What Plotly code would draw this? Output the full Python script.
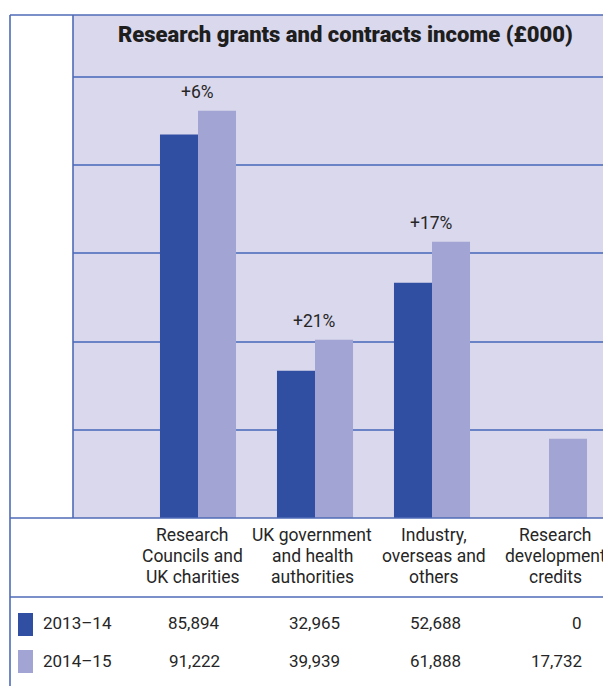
import plotly.graph_objects as go

# ---------------- data ----------------
categories = ["Research Councils and UK charities",
              "UK government and health authorities",
              "Industry, overseas and others",
              "Research development credits"]
category_lines = [["Research", "Councils and", "UK charities"],
                  ["UK government", "and health", "authorities"],
                  ["Industry,", "overseas and", "others"],
                  ["Research", "development", "credits"]]
series_names = ["2013–14", "2014–15"]
values_2013_14 = [85894, 32965, 52688, 0]
values_2014_15 = [91222, 39939, 61888, 17732]
change_labels = ["+6%", "+21%", "+17%", ""]
title_text = "Research grants and contracts income (£000)"

# ---------------- style ----------------
W, H = 603, 686
DARK = "#304FA3"
LIGHT = "#A2A4D3"
BG = "#DAD8EC"
LINE = "#4F6BB7"
GRID = "#6A82C6"
TXT = "#262626"
FONT = "Roboto, Liberation Sans, sans-serif"

PLOT_L, PLOT_R, PLOT_T, PLOT_B = 73, 603, 15, 518


def fx(p):
    return p / W


def fy(p):
    return 1 - p / H


fig = go.Figure()
fig.add_trace(go.Bar(x=categories, y=values_2013_14, name=series_names[0],
                     marker=dict(color=DARK, line=dict(width=0))))
fig.add_trace(go.Bar(x=categories, y=values_2014_15, name=series_names[1],
                     marker=dict(color=LIGHT, line=dict(width=0))))

annotations = []
# change labels above the groups
for cat, val, lab in zip(categories, values_2014_15, change_labels):
    if lab:
        annotations.append(dict(x=cat, y=val, xref="x", yref="y", text=lab,
                                showarrow=False, yanchor="middle", yshift=19,
                                xshift=-1,
                                font=dict(family=FONT, size=17.5, color=TXT)))

# title
annotations.append(dict(x=fx(345.5), y=fy(35), xref="paper", yref="paper",
                        text=title_text, showarrow=False,
                        xanchor="center", yanchor="middle",
                        font=dict(family=FONT, size=22, color="#1E1E1E",
                                  weight=900)))

# table: category labels
col_centers = [192, 312, 434, 555]
line_ys = [535, 556, 577]
for cx, lines in zip(col_centers, category_lines):
    for ly, t in zip(line_ys, lines):
        annotations.append(dict(x=fx(cx), y=fy(ly), xref="paper", yref="paper",
                                text=t, showarrow=False, xanchor="center",
                                yanchor="middle", borderpad=0,
                                font=dict(family=FONT, size=17.5, color=TXT)))

# table: values
col_rights = [222, 342, 463, 584]
row_ys = [623, 661]
for ry, vals in zip(row_ys, [values_2013_14, values_2014_15]):
    for rx, v in zip(col_rights, vals):
        annotations.append(dict(x=fx(rx), y=fy(ry), xref="paper", yref="paper",
                                text=f"{v:,}", showarrow=False, xanchor="right",
                                yanchor="middle",
                                font=dict(family=FONT, size=17, color=TXT)))

# table: legend labels
for ry, name in zip(row_ys, series_names):
    annotations.append(dict(x=fx(41), y=fy(ry), xref="paper", yref="paper",
                            text=name, showarrow=False, xanchor="left",
                            yanchor="middle",
                            font=dict(family=FONT, size=17, color=TXT)))

shapes = []
# legend swatches
for (y0, y1), col in zip([(613, 636), (650, 673)], [DARK, LIGHT]):
    shapes.append(dict(type="rect", xref="paper", yref="paper",
                       x0=fx(18), x1=fx(33), y0=fy(y1), y1=fy(y0),
                       fillcolor=col, line=dict(width=0)))
# frame lines
frame = [
    (10, 15, 603, 15),    # top
    (10, 15, 10, 686),    # outer left
    (73, 15, 73, 518),    # inner left of plot area
    (10, 518, 603, 518),  # baseline
    (10, 597, 603, 597),  # table header separator
]
for x0, y0, x1, y1 in frame:
    shapes.append(dict(type="line", xref="paper", yref="paper",
                       x0=fx(x0), y0=fy(y0), x1=fx(x1), y1=fy(y1),
                       line=dict(color=LINE, width=1.6)))

# axis geometry
px_per_cat = 117.0
first_center = 198.0
x_range = [(PLOT_L - first_center) / px_per_cat,
           (PLOT_R - first_center) / px_per_cat]
px_per_unit = (518.3 - 111) / 91222.0
y_top = (PLOT_B - PLOT_T) / px_per_unit

fig.update_layout(
    width=W, height=H,
    margin=dict(l=0, r=0, t=0, b=0),
    paper_bgcolor="white",
    plot_bgcolor=BG,
    barmode="group",
    bargap=0.35,
    bargroupgap=0,
    showlegend=False,
    annotations=annotations,
    shapes=shapes,
    xaxis=dict(domain=[fx(PLOT_L), fx(PLOT_R)], range=x_range,
               showticklabels=False, showgrid=False, zeroline=False,
               ticks="", fixedrange=True),
    yaxis=dict(domain=[fy(PLOT_B), fy(PLOT_T)], range=[0, y_top],
               showticklabels=False, showgrid=True, gridcolor=GRID,
               gridwidth=1.5, tick0=0, dtick=19750, zeroline=False,
               ticks="", fixedrange=True),
)

fig.write_html("out.html",
               config={"displayModeBar": False},
               post_script="document.body.style.margin='0';"
                           "document.body.style.padding='0';")
